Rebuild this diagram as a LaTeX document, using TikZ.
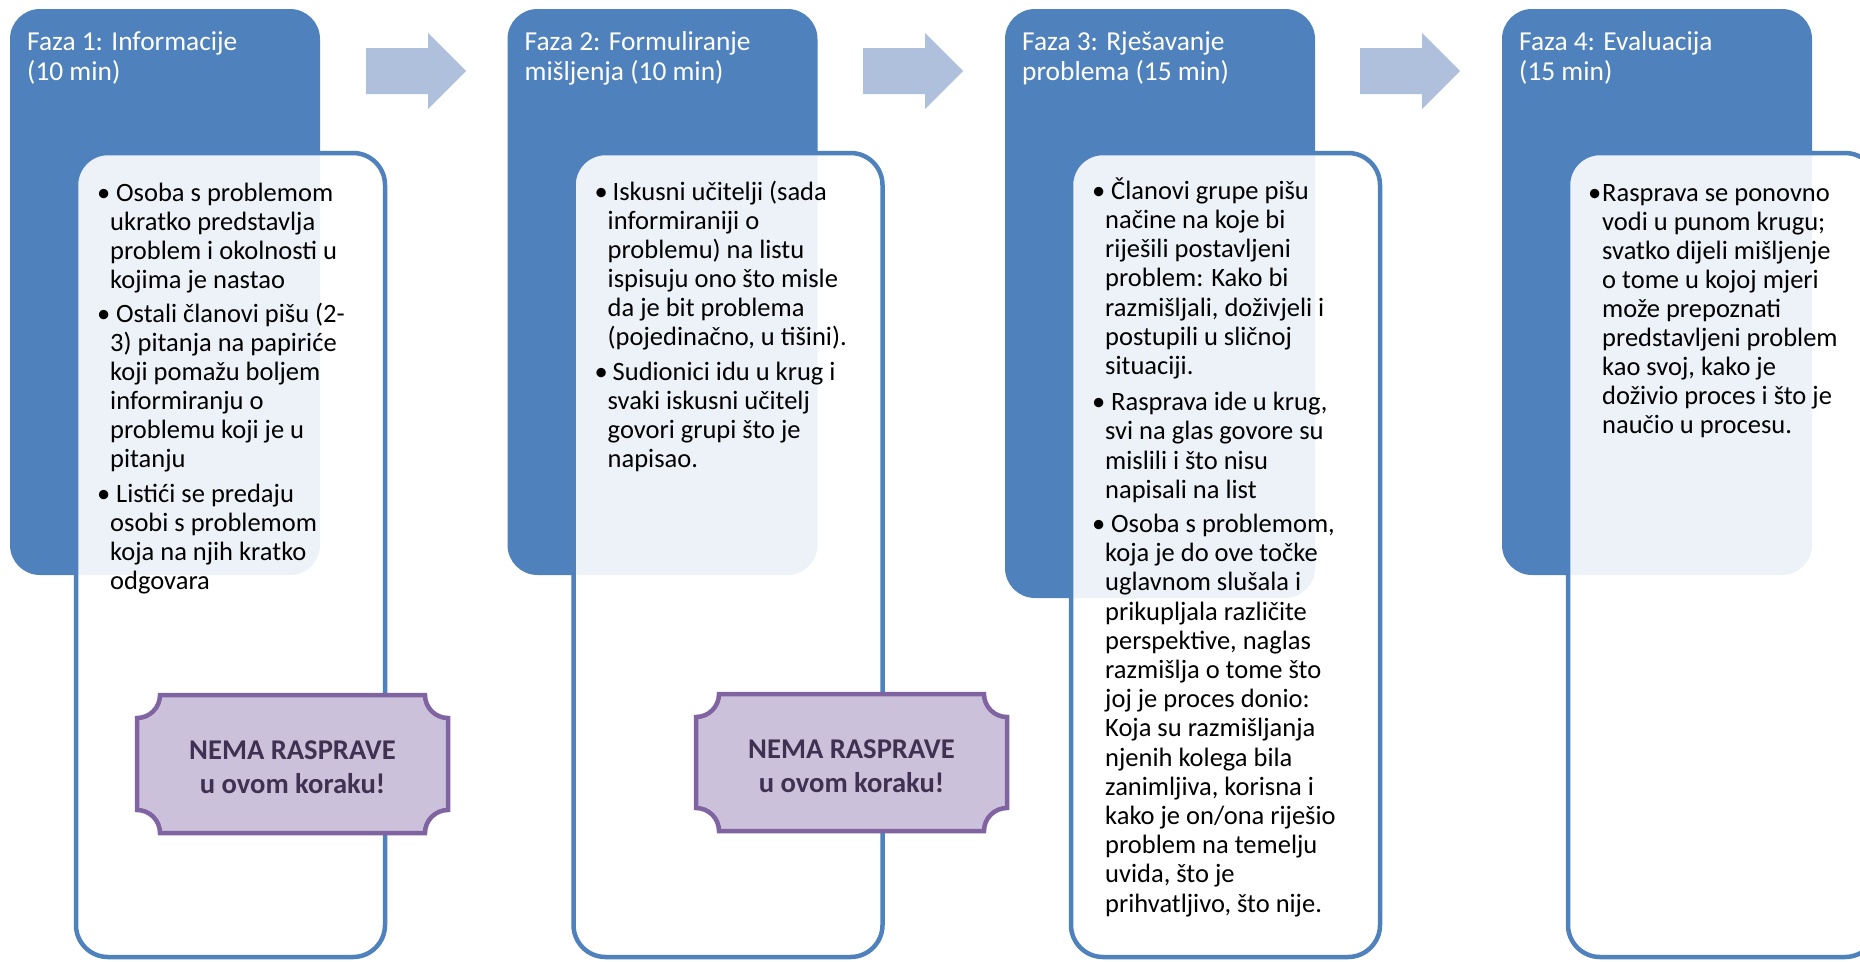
\documentclass[tikz,border=0pt]{standalone}
\usepackage{fontspec}
\setmainfont{Carlito}
\definecolor{phase}{RGB}{79,129,189}
\definecolor{arrowc}{RGB}{175,192,220}
\definecolor{plqfill}{RGB}{204,193,218}
\definecolor{plqline}{RGB}{128,100,162}
\definecolor{plqtext}{RGB}{63,49,81}
\newcommand\tightlines{\lineskiplimit=-100pt\relax}
% multi-line nodes: the base anchor is the baseline of the LAST line
\tikzset{
  phasebox/.style={fill=phase, rounded corners=30pt, anchor=north west, inner sep=0pt, outer sep=0pt, minimum width=310pt},
  detailbox/.style={draw=phase, line width=4.5pt, fill=white, fill opacity=0.9, rounded corners=32pt, anchor=north west, inner sep=0pt, outer sep=0pt, minimum width=309pt, minimum height=804pt},
  phasetitle/.style={anchor=base west, inner sep=0pt, text=white, align=left, font={\fontsize{27.4}{30}\selectfont\tightlines}},
  bodytext/.style={anchor=base west, inner sep=0pt, text=black, align=left, font={\fontsize{26.5}{29}\selectfont\tightlines}},
  plaque/.style={draw=plqline, fill=plqfill, line width=4.5pt},
  plaquetext/.style={anchor=base, inner sep=0pt, text=plqtext, align=center, font={\fontsize{28.6}{34}\selectfont\bfseries\tightlines}},
  blockarrow/.style={fill=arrowc}
}
\newcommand\plaqueshape[5]{%
  \path[plaque] ({#1+#5},#2) -- ({#3-#5},#2)
    .. controls ({#3-#5},{#2+0.5523*#5}) and ({#3-0.5523*#5},{#2+#5}) .. (#3,{#2+#5})
    -- (#3,{#4-#5})
    .. controls ({#3-0.5523*#5},{#4-#5}) and ({#3-#5},{#4-0.5523*#5}) .. ({#3-#5},#4)
    -- ({#1+#5},#4)
    .. controls ({#1+#5},{#4-0.5523*#5}) and ({#1+0.5523*#5},{#4-#5}) .. (#1,{#4-#5})
    -- (#1,{#2+#5})
    .. controls ({#1+0.5523*#5},{#2+#5}) and ({#1+#5},{#2+0.5523*#5}) .. cycle;}
\newcommand\blockarr[1]{%
  \fill[blockarrow, xshift=#1] (366,48) -- (428,48) -- (428,33) -- (466,71) -- (428,109) -- (428,94) -- (366,94) -- cycle;}
\begin{document}
\begin{tikzpicture}[x=1pt,y=-1pt]
\useasboundingbox (0,0) rectangle (1860,961);
\fill[white] (0,0) rectangle (1860,961);
\clip (0,0) rectangle (1860,961);

% phase boxes
\node[phasebox, minimum height=566pt] (p1) at (10,9) {};
\node[phasebox, minimum height=566pt] (p2) at (507.5,9) {};
\node[phasebox, minimum height=589pt] (p3) at (1005,9) {};
\node[phasebox, minimum height=566pt] (p4) at (1502,9) {};

% arrows
\blockarr{0pt}
\blockarr{497pt}
\blockarr{994pt}

% detail boxes
\node[detailbox] (d1) at (76,153) {};
\node[detailbox] (d2) at (573.5,153) {};
\node[detailbox] (d3) at (1071,153) {};
\node[detailbox] (d4) at (1568,153) {};

% plaques
\plaqueshape{137}{695}{448}{833}{23}
\plaqueshape{696}{694}{1007}{831}{23}
\node[plaquetext] (n1) at (292.5,793) {NEMA RASPRAVE\\u ovom koraku!};
\node[plaquetext] (n2) at (851.5,792) {NEMA RASPRAVE\\u ovom koraku!};

% titles (anchored at the second line's baseline)
\node[phasetitle] (h1) at (27,80) {Faza 1: Informacije\\(10 min)};
\node[phasetitle] (h2) at (524.5,80) {Faza 2: Formuliranje\\mišljenja (10 min)};
\node[phasetitle] (h3) at (1022,80) {Faza 3: Rješavanje\\problema (15 min)};
\node[phasetitle] (h4) at (1519,80) {Faza 4: Evaluacija\\(15 min)};

% body texts (anchored at the last line's baseline)
\node[bodytext] (t1) at (110,589) {\llap{•}\hspace*{6pt}Osoba s problemom\\ukratko predstavlja\\problem i okolnosti u\\kojima je nastao\\[5pt]\llap{•}\hspace*{6pt}Ostali članovi pišu (2-\\3) pitanja na papiriće\\koji pomažu boljem\\informiranju o\\problemu koji je u\\pitanju\\[6pt]\llap{•}\hspace*{6pt}Listići se predaju\\osobi s problemom\\koja na njih kratko\\odgovara};

\node[bodytext] (t2) at (607.5,467) {\llap{•}\hspace*{5pt}Iskusni učitelji (sada\\informiraniji o\\problemu) na listu\\ispisuju ono što misle\\da je bit problema\\(pojedinačno, u tišini).\\[6pt]\llap{•}\hspace*{5pt}Sudionici idu u krug i\\svaki iskusni učitelj\\govori grupi što je\\napisao.};

\node[bodytext, font={\fontsize{26.5}{29.2}\selectfont\tightlines}] (t3) at (1105,912) {\llap{•}\hspace*{6pt}Članovi grupe pišu\\načine na koje bi\\riješili postavljeni\\problem: Kako bi\\razmišljali, doživjeli i\\postupili u sličnoj\\situaciji.\\[7pt]\llap{•}\hspace*{6pt}Rasprava ide u krug,\\svi na glas govore su\\mislili i što nisu\\napisali na list\\[5pt]\llap{•}\hspace*{6pt}Osoba s problemom,\\koja je do ove točke\\uglavnom slušala i\\prikupljala različite\\perspektive, naglas\\razmišlja o tome što\\joj je proces donio:\\Koja su razmišljanja\\njenih kolega bila\\zanimljiva, korisna i\\kako je on/ona riješio\\problem na temelju\\uvida, što je\\prihvatljivo, što nije.};

\node[bodytext] (t4) at (1602,433) {\llap{•\hspace*{1pt}}Rasprava se ponovno\\vodi u punom krugu;\\svatko dijeli mišljenje\\o tome u kojoj mjeri\\može prepoznati\\predstavljeni problem\\kao svoj, kako je\\doživio proces i što je\\naučio u procesu.};
\end{tikzpicture}
\end{document}
